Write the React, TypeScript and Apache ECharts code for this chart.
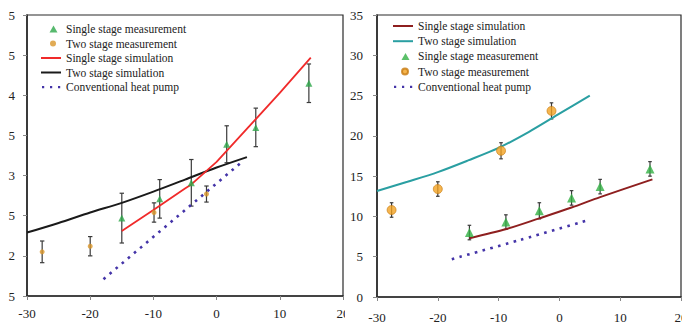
import React, { useEffect, useRef } from "react";
import * as echarts from "echarts";

// ---------- Left chart data ----------
const leftSingleMeasX = [-15, -9, -4, 1.6, 6.2, 14.6];
const leftSingleMeasY = [2.47, 2.71, 2.91, 3.39, 3.6, 4.15];
const leftSingleMeasErr = [0.31, 0.24, 0.29, 0.23, 0.24, 0.24];

const leftTwoMeasX = [-27.6, -20, -9.9, -1.6];
const leftTwoMeasY = [2.05, 2.12, 2.54, 2.77];
const leftTwoMeasErr = [0.135, 0.12, 0.12, 0.1];

const leftSingleSimX = [-15, -10, -5, -4, 0, 5, 10, 14.9];
const leftSingleSimY = [2.31, 2.57, 2.84, 2.89, 3.17, 3.6, 4.03, 4.47];

const leftTwoSimX = [-30, -25, -20, -15, -10, -5, 0, 4.8];
const leftTwoSimY = [2.29, 2.41, 2.54, 2.66, 2.8, 2.95, 3.1, 3.23];

const leftConvX = [-17.9, 4.0];
const leftConvY = [1.71, 3.17];

// ---------- Right chart data ----------
const rightSingleMeasX = [-14.8, -8.8, -3.3, 2.0, 6.7, 14.9];
const rightSingleMeasY = [8.0, 9.3, 10.7, 12.3, 13.7, 15.9];
const rightSingleMeasErr = [0.9, 0.9, 1.0, 0.9, 0.9, 0.9];

const rightTwoMeasX = [-27.6, -20, -9.6, -1.3];
const rightTwoMeasY = [10.8, 13.4, 18.15, 23.1];
const rightTwoMeasErr = [0.9, 0.9, 1.0, 1.0];

const rightSingleSimX = [-14.8, -8.7, -3.3, 2.0, 6.7, 15.3];
const rightSingleSimY = [7.3, 8.44, 9.76, 11.1, 12.4, 14.6];

const rightTwoSimX = [-30, -25, -20, -15, -10, -5, 0, 5];
const rightTwoSimY = [13.15, 14.3, 15.5, 16.95, 18.5, 20.5, 22.75, 25.0];

const rightConvX = [-17.7, -6.5, 4.8];
const rightConvY = [4.7, 7.07, 9.55];

// ---------- Labels ----------
const NAME_SM = "Single stage measurement";
const NAME_TM = "Two stage measurement";
const NAME_SS = "Single stage simulation";
const NAME_TS = "Two stage simulation";
const NAME_CV = "Conventional heat pump";

const leftLegendOrder = [NAME_SM, NAME_TM, NAME_SS, NAME_TS, NAME_CV];
const rightLegendOrder = [NAME_SS, NAME_TS, NAME_SM, NAME_TM, NAME_CV];

const FONT = "Liberation Serif";

// legend icons, all in a fixed 20x10 box (leading moveTos fix the bounding box)
const BOX = "M0,0 M20,10 ";
const ICON_LINE = "path://" + BOX + "M0,4 L20,4 L20,6 L0,6 Z";
const ICON_DOTS = "path://" + BOX + "M1,4 h2.2 v2.2 h-2.2 Z M9,4 h2.2 v2.2 h-2.2 Z M17,4 h2.2 v2.2 h-2.2 Z";
const ICON_TRI = "path://" + BOX + "M12.5,1.5 L16.5,8.5 L8.5,8.5 Z";
const ICON_CIRC = "path://" + BOX + "M9,5 A3,3 0 1,0 15,5 A3,3 0 1,0 9,5 Z";

const legendIconFor = (name: string) =>
  name === NAME_CV ? ICON_DOTS
  : name === NAME_SS || name === NAME_TS ? ICON_LINE
  : name === NAME_SM ? ICON_TRI
  : ICON_CIRC;

const legendData = (order: string[]) => order.map((name) => ({ name, icon: legendIconFor(name) }));

const zip = (xs: number[], ys: number[]) => xs.map((x, i) => [x, ys[i]]);

function errorBars(name: string, xs: number[], ys: number[], errs: number[], cap: number) {
  return {
    type: "custom",
    name,
    data: xs.map((x, i) => [x, ys[i] - errs[i], ys[i] + errs[i]]),
    encode: { x: 0, y: [1, 2] },
    z: 2,
    silent: true,
    renderItem: (params: any, api: any) => {
      const lo = api.coord([api.value(0), api.value(1)]);
      const hi = api.coord([api.value(0), api.value(2)]);
      const style = { stroke: "#3a3a3a", lineWidth: 1.2 };
      return {
        type: "group",
        children: [
          { type: "line", shape: { x1: lo[0], y1: lo[1], x2: hi[0], y2: hi[1] }, style },
          { type: "line", shape: { x1: lo[0] - cap, y1: lo[1], x2: lo[0] + cap, y2: lo[1] }, style },
          { type: "line", shape: { x1: hi[0] - cap, y1: hi[1], x2: hi[0] + cap, y2: hi[1] }, style },
        ],
      };
    },
  };
}

function axisBase(min: number, max: number, interval: number, margin: number) {
  return {
    type: "value",
    min,
    max,
    interval,
    splitLine: { show: false },
    axisLine: { show: true, onZero: false, lineStyle: { color: "#2a2a2a", width: 1.6 } },
    axisTick: { show: true, length: 4, lineStyle: { color: "#888", width: 1 } },
    axisLabel: { fontFamily: FONT, fontSize: 13, color: "#222", margin },
  };
}

function lineSeries(name: string, xs: number[], ys: number[], color: string, width: number, smooth: any, dotted = false) {
  return {
    type: "line",
    name,
    data: zip(xs, ys),
    symbol: "none",
    showSymbol: false,
    smooth,
    z: 3,
    itemStyle: { color },
    lineStyle: dotted
      ? { color, width: 2.6, type: [2.6, 5.4], cap: "butt" }
      : { color, width },
  };
}

function scatterSeries(name: string, xs: number[], ys: number[], symbol: string, size: number, color: string, border?: string) {
  return {
    type: "scatter",
    name,
    data: zip(xs, ys),
    symbol,
    symbolSize: size,
    z: 4,
    itemStyle: border ? { color, borderColor: border, borderWidth: 0.8 } : { color },
  };
}

const legendBase = {
  orient: "vertical",
  padding: 0,
  itemWidth: 20,
  itemHeight: 10,
  textStyle: { fontFamily: FONT, fontSize: 11.5, color: "#222", lineHeight: 12 },
};

const leftOption = {
  animation: false,
  backgroundColor: "#ffffff",
  grid: {
    left: 27, top: 15, width: 316, height: 281,
    outerBoundsMode: "none", containLabel: false,
    show: true, borderColor: "#2a2a2a", borderWidth: 1.2, backgroundColor: "transparent",
  },
  xAxis: { ...axisBase(-30, 20, 10, 11) },
  yAxis: {
    ...axisBase(1.5, 5, 0.5, 12),
    axisLabel: {
      fontFamily: FONT,
      fontSize: 13,
      color: "#222",
      margin: 12,
      formatter: (v: number) => {
        const s = String(v);
        return s.charAt(s.length - 1);
      },
    },
  },
  legend: { ...legendBase, left: 41, top: 23, itemGap: 2.5, data: legendData(leftLegendOrder) },
  series: [
    errorBars("errSingle", leftSingleMeasX, leftSingleMeasY, leftSingleMeasErr, 2.2),
    errorBars("errTwo", leftTwoMeasX, leftTwoMeasY, leftTwoMeasErr, 2.2),
    lineSeries(NAME_TS, leftTwoSimX, leftTwoSimY, "#1a1a1a", 2, 0.3),
    lineSeries(NAME_SS, leftSingleSimX, leftSingleSimY, "#f02a2a", 1.8, false),
    lineSeries(NAME_CV, leftConvX, leftConvY, "#4434a8", 2.6, false, true),
    scatterSeries(NAME_SM, leftSingleMeasX, leftSingleMeasY, "triangle", 7, "#2da84a"),
    scatterSeries(NAME_TM, leftTwoMeasX, leftTwoMeasY, "circle", 5, "#d9962a"),
  ],
};

const rightOption = {
  animation: false,
  backgroundColor: "#ffffff",
  grid: {
    left: 32, top: 15, width: 304, height: 282,
    outerBoundsMode: "none", containLabel: false,
    show: true, borderColor: "#2a2a2a", borderWidth: 1.2, backgroundColor: "transparent",
  },
  xAxis: { ...axisBase(-30, 20, 10, 14) },
  yAxis: { ...axisBase(0, 35, 5, 14) },
  legend: { ...legendBase, left: 47, top: 20, itemGap: 3.2, data: legendData(rightLegendOrder) },
  series: [
    errorBars("errSingle", rightSingleMeasX, rightSingleMeasY, rightSingleMeasErr, 1.8),
    errorBars("errTwo", rightTwoMeasX, rightTwoMeasY, rightTwoMeasErr, 1.8),
    lineSeries(NAME_SS, rightSingleSimX, rightSingleSimY, "#8e1f1f", 2, 0.3),
    lineSeries(NAME_TS, rightTwoSimX, rightTwoSimY, "#2a9fa2", 2, 0.3),
    lineSeries(NAME_CV, rightConvX, rightConvY, "#4434a8", 2.6, 0.3, true),
    scatterSeries(NAME_SM, rightSingleMeasX, rightSingleMeasY, "triangle", 9, "#32b043"),
    scatterSeries(NAME_TM, rightTwoMeasX, rightTwoMeasY, "circle", 9, "#f2a222", "#c77a12"),
  ],
};

function Chart({ option, style }: { option: any; style: React.CSSProperties }) {
  const ref = useRef<HTMLDivElement>(null);
  useEffect(() => {
    if (!ref.current) return;
    const chart = echarts.init(ref.current, null, { renderer: "svg" });
    chart.setOption(option);
    return () => chart.dispose();
  }, [option]);
  return <div ref={ref} style={style} />;
}

export default function App() {
  return (
    <div style={{ position: "fixed", left: 0, top: 0, width: 682, height: 327, background: "#fff", overflow: "hidden" }}>
      <Chart option={leftOption} style={{ position: "absolute", left: 0, top: 0, width: 345, height: 327, overflow: "hidden" }} />
      <Chart option={rightOption} style={{ position: "absolute", left: 345, top: 0, width: 337, height: 327, overflow: "hidden" }} />
    </div>
  );
}
